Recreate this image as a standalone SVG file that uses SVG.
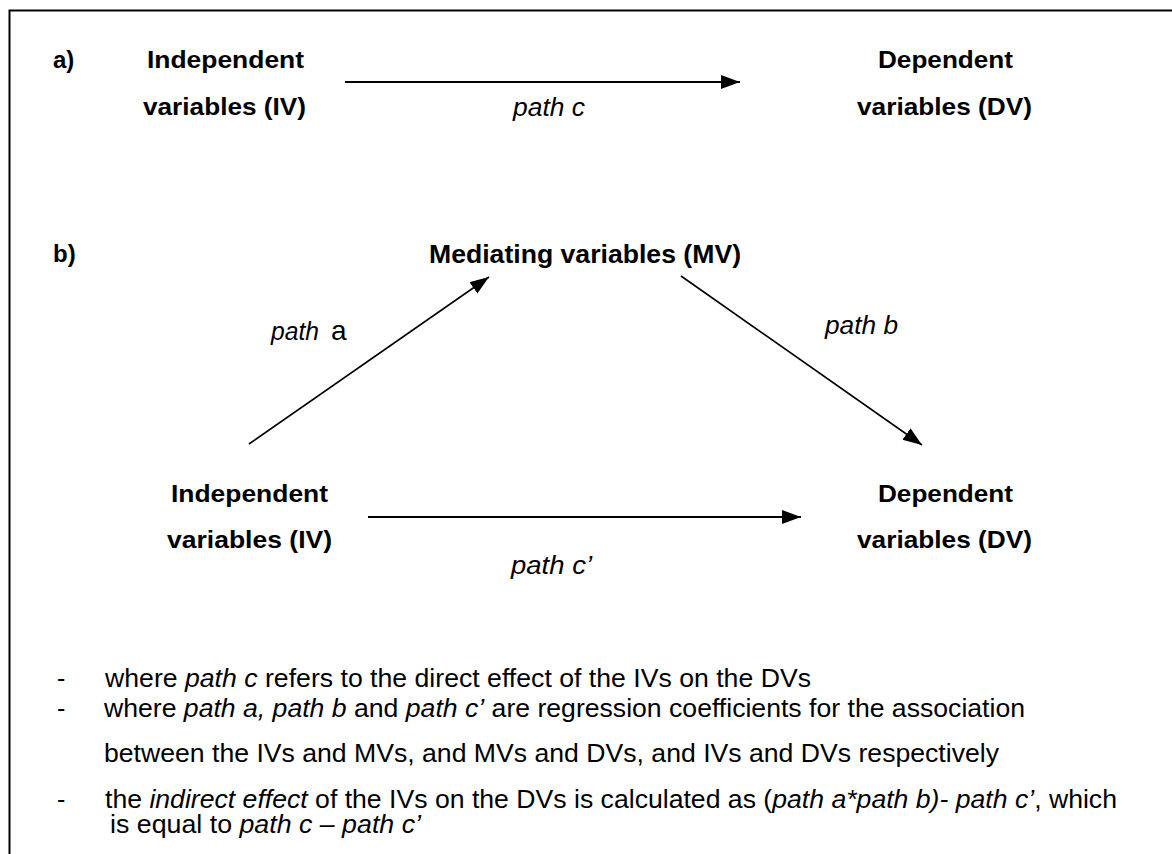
<svg xmlns="http://www.w3.org/2000/svg" width="1172" height="854" viewBox="0 0 1172 854">
  <style>
    .lbl { font-family: "Liberation Sans", Arial, sans-serif; font-weight: bold; font-size: 24px; fill: #000; }
    .pth { font-family: "Liberation Sans", Arial, sans-serif; font-style: italic; font-size: 25px; fill: #000; }
    .note { font-family: "Liberation Sans", Arial, sans-serif; font-size: 25px; fill: #000; }
    .it { font-style: italic; }
    .edge { stroke: #000; stroke-width: 1.6; fill: none; }
    .edge-h { stroke: #000; stroke-width: 2; fill: none; }
  </style>
  <defs>
    <marker id="arrow" markerUnits="userSpaceOnUse" markerWidth="20" markerHeight="16" refX="19" refY="7" orient="auto">
      <path d="M0,0 L19,7 L0,14 Z" fill="#000"/>
    </marker>
  </defs>

  <rect width="1172" height="854" fill="#fff"/>
  <!-- frame: top and left edges -->
  <path d="M9.5,854 V10.5 H1172" stroke="#000" stroke-width="2" fill="none"/>

  <!-- panel labels -->
  <text class="lbl" x="53" y="68">a)</text>
  <text class="lbl" x="53" y="262">b)</text>

  <!-- panel a nodes -->
  <g id="a-iv">
    <text class="lbl" x="147" y="68" textLength="157" lengthAdjust="spacingAndGlyphs">Independent</text>
    <text class="lbl" x="143" y="115" textLength="163" lengthAdjust="spacingAndGlyphs">variables (IV)</text>
  </g>
  <g id="a-dv">
    <text class="lbl" x="878" y="68" textLength="135" lengthAdjust="spacingAndGlyphs">Dependent</text>
    <text class="lbl" x="857" y="115" textLength="175" lengthAdjust="spacingAndGlyphs">variables (DV)</text>
  </g>

  <!-- panel b nodes -->
  <g id="b-mv">
    <text class="lbl" x="429" y="263" style="font-size:26px" textLength="312" lengthAdjust="spacingAndGlyphs">Mediating variables (MV)</text>
  </g>
  <g id="b-iv">
    <text class="lbl" x="171" y="502" textLength="157" lengthAdjust="spacingAndGlyphs">Independent</text>
    <text class="lbl" x="167" y="548" textLength="165" lengthAdjust="spacingAndGlyphs">variables (IV)</text>
  </g>
  <g id="b-dv">
    <text class="lbl" x="878" y="502" textLength="135" lengthAdjust="spacingAndGlyphs">Dependent</text>
    <text class="lbl" x="857" y="548" textLength="175" lengthAdjust="spacingAndGlyphs">variables (DV)</text>
  </g>

  <!-- connectors -->
  <g id="connectors">
    <line class="edge-h" x1="345" y1="82" x2="740" y2="82" marker-end="url(#arrow)"/>
    <line class="edge" x1="249" y1="444" x2="489" y2="277" marker-end="url(#arrow)"/>
    <line class="edge" x1="681" y1="276" x2="922" y2="445" marker-end="url(#arrow)"/>
    <line class="edge-h" x1="368" y1="517" x2="801" y2="517" marker-end="url(#arrow)"/>
  </g>

  <!-- path labels -->
  <g id="path-labels">
    <text class="pth" x="513" y="116" textLength="72" lengthAdjust="spacingAndGlyphs">path c</text>
    <text class="pth" x="271" y="340" textLength="48" lengthAdjust="spacingAndGlyphs">path</text>
    <text class="note" x="331" y="340" style="font-size:28px">a</text>
    <text class="pth" x="825" y="334" textLength="73" lengthAdjust="spacingAndGlyphs">path b</text>
    <text class="pth" x="511" y="574" textLength="81" lengthAdjust="spacingAndGlyphs">path c’</text>
  </g>

  <!-- explanatory notes -->
  <g id="notes">
    <text class="note" x="57" y="687">-</text>
    <text class="note" x="105" y="687" textLength="706" lengthAdjust="spacingAndGlyphs">where <tspan class="it">path c</tspan> refers to the direct effect of the IVs on the DVs</text>
    <text class="note" x="57" y="717">-</text>
    <text class="note" x="104" y="717" textLength="921" lengthAdjust="spacingAndGlyphs">where <tspan class="it">path a, path b</tspan> and <tspan class="it">path c’</tspan> are regression coefficients for the association</text>
    <text class="note" x="104" y="762" textLength="895" lengthAdjust="spacingAndGlyphs">between the IVs and MVs, and MVs and DVs, and IVs and DVs respectively</text>
    <text class="note" x="57" y="808">-</text>
    <text class="note" x="105" y="808" textLength="1012" lengthAdjust="spacingAndGlyphs">the <tspan class="it">indirect effect</tspan> of the IVs on the DVs is calculated as (<tspan class="it">path a*path b)- path c’</tspan>, which</text>
    <text class="note" x="110" y="833" textLength="311" lengthAdjust="spacingAndGlyphs">is equal to <tspan class="it">path c – path c’</tspan></text>
  </g>
</svg>
